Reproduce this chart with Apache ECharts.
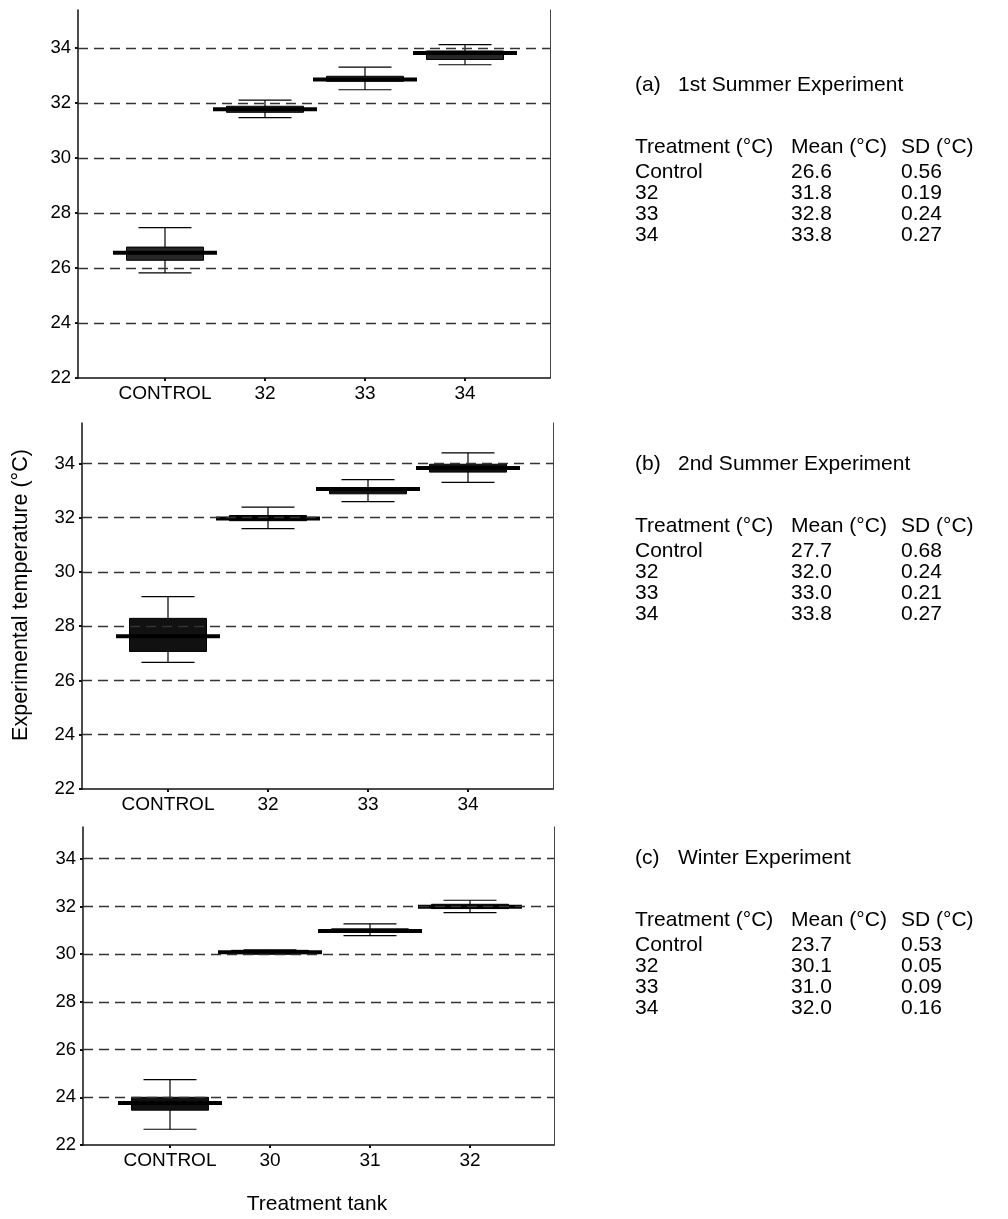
<!DOCTYPE html>
<html>
<head>
<meta charset="utf-8">
<script src="https://cdn.jsdelivr.net/npm/echarts@6/dist/echarts.min.js"></script>
<style>html,body{margin:0;padding:0;background:#fff}#c{width:1008px;height:1219px}</style>
</head>
<body>
<div id="c"></div>
<script>
// ---------- DATA ----------
const categoriesSummer = ['CONTROL', '32', '33', '34'];
const categoriesWinter = ['CONTROL', '30', '31', '32'];
// box stats per tank: [min, Q1, median, Q3, max]
const boxSummer1 = [
  [25.82, 26.28, 26.55, 26.76, 27.47],
  [31.47, 31.66, 31.77, 31.88, 32.10],
  [32.48, 32.79, 32.85, 32.97, 33.30],
  [33.39, 33.58, 33.82, 33.89, 34.12]
];
const boxSummer2 = [
  [26.67, 27.07, 27.63, 28.29, 29.09],
  [31.60, 31.89, 31.97, 32.08, 32.39],
  [32.59, 32.88, 33.06, 33.09, 33.40],
  [33.30, 33.68, 33.83, 33.97, 34.39]
];
const boxWinter = [
  [22.66, 23.46, 23.76, 24.00, 24.74],
  [30.00, 30.02, 30.08, 30.16, 30.18],
  [30.78, 30.92, 30.97, 31.06, 31.27],
  [31.74, 31.91, 31.99, 32.09, 32.26]
];
const yTicks = [22, 24, 26, 28, 30, 32, 34];
const panelTitles = ['(a)', '(b)', '(c)'];
const panelNames = ['1st Summer Experiment', '2nd Summer Experiment', 'Winter Experiment'];
const tableHeader = ['Treatment (°C)', 'Mean (°C)', 'SD (°C)'];
const treatments = ['Control', '32', '33', '34'];
const meanSummer1 = ['26.6', '31.8', '32.8', '33.8'];
const sdSummer1 = ['0.56', '0.19', '0.24', '0.27'];
const meanSummer2 = ['27.7', '32.0', '33.0', '33.8'];
const sdSummer2 = ['0.68', '0.24', '0.21', '0.27'];
const meanWinter = ['23.7', '30.1', '31.0', '32.0'];
const sdWinter = ['0.53', '0.05', '0.09', '0.16'];
const yAxisTitle = 'Experimental temperature (°C)';
const xAxisTitle = 'Treatment tank';

// ---------- LAYOUT / STYLE ----------
const FONT = '"Liberation Sans", Arial, sans-serif';
const TXT = '#000';
const BIG = '21px ' + FONT;
const panels = [
  {cats: categoriesSummer, box: boxSummer1, mean: meanSummer1, sd: sdSummer1,
   grid: {left: 78, top: 10, width: 472, height: 368}, yMax: 35.38, xMin: -0.87, xMax: 3.85,
   fill: '#262626', titleY: 85, headY: 147},
  {cats: categoriesSummer, box: boxSummer2, mean: meanSummer2, sd: sdSummer2,
   grid: {left: 82, top: 423, width: 471, height: 366}, yMax: 35.49, xMin: -0.86, xMax: 3.85,
   fill: '#111', titleY: 464, headY: 526},
  {cats: categoriesWinter, box: boxWinter, mean: meanWinter, sd: sdWinter,
   grid: {left: 83, top: 827, width: 471, height: 318}, yMax: 35.33, xMin: -0.87, xMax: 3.84,
   fill: '#111', titleY: 858, headY: 920}
];
const colX = [635, 791, 901];
const rowGap = 21;

function makeRender(fill) {
  return function (params, api) {
    const x = api.value(0);
    const lo = api.coord([x, api.value(1)]);
    const q1 = api.coord([x, api.value(2)]);
    const md = api.coord([x, api.value(3)]);
    const q3 = api.coord([x, api.value(4)]);
    const hi = api.coord([x, api.value(5)]);
    const cx = lo[0];
    const boxW = 77, medW = 104, capW = 53;
    const ls = {stroke: '#000', lineWidth: 1.2};
    return {type: 'group', children: [
      {type: 'line', shape: {x1: cx, y1: hi[1], x2: cx, y2: lo[1]}, style: ls},
      {type: 'line', shape: {x1: cx - capW / 2, y1: hi[1], x2: cx + capW / 2, y2: hi[1]}, style: ls},
      {type: 'line', shape: {x1: cx - capW / 2, y1: lo[1], x2: cx + capW / 2, y2: lo[1]}, style: ls},
      {type: 'rect', shape: {x: cx - boxW / 2, y: q3[1], width: boxW, height: Math.max(q1[1] - q3[1], 3)},
       style: {fill: fill, stroke: '#000', lineWidth: 1}},
      {type: 'line', shape: {x1: cx - medW / 2, y1: md[1], x2: cx + medW / 2, y2: md[1]},
       style: {stroke: '#000', lineWidth: 4}}
    ]};
  };
}

const grids = [], xAxes = [], yAxes = [], series = [], graphics = [];
panels.forEach(function (p, i) {
  grids.push(Object.assign({containLabel: false}, p.grid));
  xAxes.push({
    type: 'value', gridIndex: i, min: p.xMin, max: p.xMax,
    axisLine: {show: true, lineStyle: {color: '#111', width: 1.5}},
    axisTick: {show: true, length: 3, customValues: [0, 1, 2, 3], lineStyle: {color: '#111', width: 2}},
    axisLabel: {show: true, customValues: [0, 1, 2, 3], margin: 6,
      formatter: (function (cats) { return function (v) { return cats[Math.round(v)]; }; })(p.cats),
      fontSize: 19, color: TXT, fontFamily: FONT},
    splitLine: {show: false}
  });
  yAxes.push({
    type: 'value', gridIndex: i, min: 22, max: p.yMax, interval: 2, position: 'left',
    axisLine: {show: true, onZero: false, lineStyle: {color: '#111', width: 1.5}},
    axisTick: {show: true, length: 3, customValues: yTicks, lineStyle: {color: '#111', width: 2}},
    axisLabel: {show: true, customValues: yTicks, margin: 7, fontSize: 18.5, color: TXT, fontFamily: FONT,
      formatter: function (v) { return yTicks.indexOf(v) >= 0 ? String(v) : ''; }},
    splitLine: {show: false}
  });
  yAxes.push({
    type: 'value', gridIndex: i, min: 22, max: p.yMax, position: 'right',
    axisLine: {show: true, onZero: false, lineStyle: {color: '#444', width: 1}},
    axisTick: {show: false}, axisLabel: {show: false}, splitLine: {show: false}
  });
  series.push({
    type: 'custom', xAxisIndex: i, yAxisIndex: i * 2,
    renderItem: makeRender(p.fill),
    encode: {x: 0, y: [1, 2, 3, 4, 5]},
    data: p.box.map(function (b, k) { return [k].concat(b); }),
    z: 3,
    markLine: {
      silent: true, symbol: ['none', 'none'], label: {show: false}, animation: false,
      lineStyle: {type: [10, 6], color: '#333', width: 1.3},
      data: yTicks.filter(function (v) { return v > 22; }).map(function (v) { return {yAxis: v}; })
    }
  });
  graphics.push({type: 'text', x: colX[0], y: p.titleY,
    style: {text: panelTitles[i], font: BIG, fill: TXT, verticalAlign: 'middle'}});
  graphics.push({type: 'text', x: colX[0] + 43, y: p.titleY,
    style: {text: panelNames[i], font: BIG, fill: TXT, verticalAlign: 'middle'}});
  tableHeader.forEach(function (h, c) {
    graphics.push({type: 'text', x: colX[c], y: p.headY,
      style: {text: h, font: BIG, fill: TXT, verticalAlign: 'middle'}});
  });
  treatments.forEach(function (t, r) {
    const y = p.headY + 25 + r * rowGap;
    [t, p.mean[r], p.sd[r]].forEach(function (s, c) {
      graphics.push({type: 'text', x: colX[c], y: y,
        style: {text: s, font: BIG, fill: TXT, verticalAlign: 'middle'}});
    });
  });
});
graphics.push({type: 'text', x: 21, y: 595, rotation: Math.PI / 2,
  style: {text: yAxisTitle, font: '21.5px ' + FONT, fill: TXT, align: 'center', verticalAlign: 'middle'}});
graphics.push({type: 'text', x: 317, y: 1204,
  style: {text: xAxisTitle, font: BIG, fill: TXT, align: 'center', verticalAlign: 'middle'}});

const chart = echarts.init(document.getElementById('c'), null, {renderer: 'canvas'});
chart.setOption({
  animation: false,
  backgroundColor: '#fff',
  grid: grids, xAxis: xAxes, yAxis: yAxes, series: series,
  graphic: graphics
});
</script>
</body>
</html>
